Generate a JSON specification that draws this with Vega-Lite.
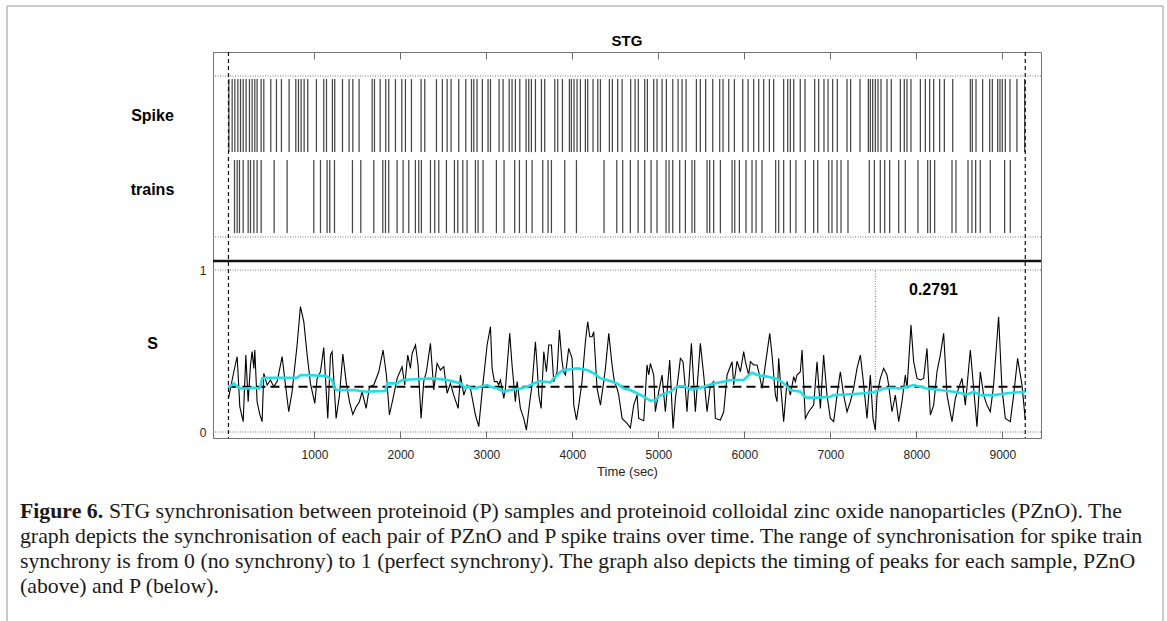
{
  "$schema": "https://vega.github.io/schema/vega-lite/v6.json",
  "autosize": {"type": "none"},
  "width": 828,
  "height": 386,
  "padding": {"left": 213, "top": 52, "right": 126, "bottom": 183},
  "background": "white",
  "config": {
    "view": {"stroke": "#737373", "strokeWidth": 1},
    "font": "Liberation Sans",
    "axis": {"grid": false, "domain": false, "labelFont": "Liberation Sans", "titleFont": "Liberation Sans"}
  },
  "datasets": {
    "spikes": [
      {"train": "PZnO", "t": 5}, {"train": "PZnO", "t": 43}, {"train": "PZnO", "t": 74}, {"train": "PZnO", "t": 109}, {"train": "PZnO", "t": 140}, {"train": "PZnO", "t": 171}, {"train": "PZnO", "t": 205}, {"train": "PZnO", "t": 244}, {"train": "PZnO", "t": 275}, {"train": "PZnO", "t": 306}, {"train": "PZnO", "t": 333}, {"train": "PZnO", "t": 380}, {"train": "PZnO", "t": 411}, {"train": "PZnO", "t": 492}, {"train": "PZnO", "t": 558}, {"train": "PZnO", "t": 616}, {"train": "PZnO", "t": 705}, {"train": "PZnO", "t": 783}, {"train": "PZnO", "t": 814}, {"train": "PZnO", "t": 845}, {"train": "PZnO", "t": 880}, {"train": "PZnO", "t": 922}, {"train": "PZnO", "t": 1023}, {"train": "PZnO", "t": 1108}, {"train": "PZnO", "t": 1140}, {"train": "PZnO", "t": 1209}, {"train": "PZnO", "t": 1236}, {"train": "PZnO", "t": 1326}, {"train": "PZnO", "t": 1403}, {"train": "PZnO", "t": 1446}, {"train": "PZnO", "t": 1519}, {"train": "PZnO", "t": 1671}, {"train": "PZnO", "t": 1698}, {"train": "PZnO", "t": 1764}, {"train": "PZnO", "t": 1829}, {"train": "PZnO", "t": 1864}, {"train": "PZnO", "t": 1942}, {"train": "PZnO", "t": 2016}, {"train": "PZnO", "t": 2058}, {"train": "PZnO", "t": 2128}, {"train": "PZnO", "t": 2240}, {"train": "PZnO", "t": 2283}, {"train": "PZnO", "t": 2419}, {"train": "PZnO", "t": 2488}, {"train": "PZnO", "t": 2543}, {"train": "PZnO", "t": 2589}, {"train": "PZnO", "t": 2678}, {"train": "PZnO", "t": 2760}, {"train": "PZnO", "t": 2826}, {"train": "PZnO", "t": 2853}, {"train": "PZnO", "t": 2891}, {"train": "PZnO", "t": 2953}, {"train": "PZnO", "t": 3019}, {"train": "PZnO", "t": 3047}, {"train": "PZnO", "t": 3147}, {"train": "PZnO", "t": 3194}, {"train": "PZnO", "t": 3265}, {"train": "PZnO", "t": 3298}, {"train": "PZnO", "t": 3337}, {"train": "PZnO", "t": 3388}, {"train": "PZnO", "t": 3461}, {"train": "PZnO", "t": 3492}, {"train": "PZnO", "t": 3523}, {"train": "PZnO", "t": 3570}, {"train": "PZnO", "t": 3640}, {"train": "PZnO", "t": 3678}, {"train": "PZnO", "t": 3795}, {"train": "PZnO", "t": 3829}, {"train": "PZnO", "t": 3884}, {"train": "PZnO", "t": 3965}, {"train": "PZnO", "t": 3988}, {"train": "PZnO", "t": 4019}, {"train": "PZnO", "t": 4054}, {"train": "PZnO", "t": 4093}, {"train": "PZnO", "t": 4151}, {"train": "PZnO", "t": 4178}, {"train": "PZnO", "t": 4240}, {"train": "PZnO", "t": 4295}, {"train": "PZnO", "t": 4326}, {"train": "PZnO", "t": 4430}, {"train": "PZnO", "t": 4465}, {"train": "PZnO", "t": 4527}, {"train": "PZnO", "t": 4578}, {"train": "PZnO", "t": 4678}, {"train": "PZnO", "t": 4729}, {"train": "PZnO", "t": 4767}, {"train": "PZnO", "t": 4841}, {"train": "PZnO", "t": 4872}, {"train": "PZnO", "t": 4946}, {"train": "PZnO", "t": 4984}, {"train": "PZnO", "t": 5043}, {"train": "PZnO", "t": 5093}, {"train": "PZnO", "t": 5167}, {"train": "PZnO", "t": 5229}, {"train": "PZnO", "t": 5275}, {"train": "PZnO", "t": 5322}, {"train": "PZnO", "t": 5442}, {"train": "PZnO", "t": 5488}, {"train": "PZnO", "t": 5550}, {"train": "PZnO", "t": 5632}, {"train": "PZnO", "t": 5713}, {"train": "PZnO", "t": 5752}, {"train": "PZnO", "t": 5818}, {"train": "PZnO", "t": 5884}, {"train": "PZnO", "t": 5981}, {"train": "PZnO", "t": 6043}, {"train": "PZnO", "t": 6108}, {"train": "PZnO", "t": 6167}, {"train": "PZnO", "t": 6225}, {"train": "PZnO", "t": 6291}, {"train": "PZnO", "t": 6341}, {"train": "PZnO", "t": 6457}, {"train": "PZnO", "t": 6504}, {"train": "PZnO", "t": 6535}, {"train": "PZnO", "t": 6574}, {"train": "PZnO", "t": 6650}, {"train": "PZnO", "t": 6705}, {"train": "PZnO", "t": 6818}, {"train": "PZnO", "t": 6864}, {"train": "PZnO", "t": 6926}, {"train": "PZnO", "t": 6973}, {"train": "PZnO", "t": 7027}, {"train": "PZnO", "t": 7081}, {"train": "PZnO", "t": 7194}, {"train": "PZnO", "t": 7236}, {"train": "PZnO", "t": 7345}, {"train": "PZnO", "t": 7442}, {"train": "PZnO", "t": 7465}, {"train": "PZnO", "t": 7492}, {"train": "PZnO", "t": 7523}, {"train": "PZnO", "t": 7554}, {"train": "PZnO", "t": 7589}, {"train": "PZnO", "t": 7659}, {"train": "PZnO", "t": 7709}, {"train": "PZnO", "t": 7814}, {"train": "PZnO", "t": 7860}, {"train": "PZnO", "t": 7891}, {"train": "PZnO", "t": 7938}, {"train": "PZnO", "t": 8047}, {"train": "PZnO", "t": 8105}, {"train": "PZnO", "t": 8155}, {"train": "PZnO", "t": 8202}, {"train": "PZnO", "t": 8271}, {"train": "PZnO", "t": 8326}, {"train": "PZnO", "t": 8423}, {"train": "PZnO", "t": 8628}, {"train": "PZnO", "t": 8651}, {"train": "PZnO", "t": 8694}, {"train": "PZnO", "t": 8771}, {"train": "PZnO", "t": 8853}, {"train": "PZnO", "t": 8884}, {"train": "PZnO", "t": 8946}, {"train": "PZnO", "t": 8973}, {"train": "PZnO", "t": 9000}, {"train": "PZnO", "t": 9035}, {"train": "PZnO", "t": 9089}, {"train": "PZnO", "t": 9170}, {"train": "PZnO", "t": 9260},
      {"train": "P", "t": 70}, {"train": "P", "t": 101}, {"train": "P", "t": 128}, {"train": "P", "t": 171}, {"train": "P", "t": 229}, {"train": "P", "t": 256}, {"train": "P", "t": 295}, {"train": "P", "t": 333}, {"train": "P", "t": 380}, {"train": "P", "t": 531}, {"train": "P", "t": 682}, {"train": "P", "t": 992}, {"train": "P", "t": 1070}, {"train": "P", "t": 1147}, {"train": "P", "t": 1178}, {"train": "P", "t": 1233}, {"train": "P", "t": 1442}, {"train": "P", "t": 1539}, {"train": "P", "t": 1690}, {"train": "P", "t": 1795}, {"train": "P", "t": 1826}, {"train": "P", "t": 1864}, {"train": "P", "t": 1961}, {"train": "P", "t": 2031}, {"train": "P", "t": 2097}, {"train": "P", "t": 2174}, {"train": "P", "t": 2213}, {"train": "P", "t": 2244}, {"train": "P", "t": 2349}, {"train": "P", "t": 2399}, {"train": "P", "t": 2446}, {"train": "P", "t": 2535}, {"train": "P", "t": 2628}, {"train": "P", "t": 2667}, {"train": "P", "t": 2725}, {"train": "P", "t": 2775}, {"train": "P", "t": 2872}, {"train": "P", "t": 2903}, {"train": "P", "t": 2961}, {"train": "P", "t": 3116}, {"train": "P", "t": 3205}, {"train": "P", "t": 3329}, {"train": "P", "t": 3384}, {"train": "P", "t": 3465}, {"train": "P", "t": 3531}, {"train": "P", "t": 3655}, {"train": "P", "t": 3717}, {"train": "P", "t": 3756}, {"train": "P", "t": 3911}, {"train": "P", "t": 4047}, {"train": "P", "t": 4368}, {"train": "P", "t": 4516}, {"train": "P", "t": 4585}, {"train": "P", "t": 4674}, {"train": "P", "t": 4764}, {"train": "P", "t": 4841}, {"train": "P", "t": 4915}, {"train": "P", "t": 4984}, {"train": "P", "t": 5089}, {"train": "P", "t": 5124}, {"train": "P", "t": 5167}, {"train": "P", "t": 5248}, {"train": "P", "t": 5314}, {"train": "P", "t": 5391}, {"train": "P", "t": 5422}, {"train": "P", "t": 5566}, {"train": "P", "t": 5597}, {"train": "P", "t": 5643}, {"train": "P", "t": 5721}, {"train": "P", "t": 5857}, {"train": "P", "t": 5888}, {"train": "P", "t": 5942}, {"train": "P", "t": 6019}, {"train": "P", "t": 6089}, {"train": "P", "t": 6136}, {"train": "P", "t": 6205}, {"train": "P", "t": 6364}, {"train": "P", "t": 6399}, {"train": "P", "t": 6457}, {"train": "P", "t": 6535}, {"train": "P", "t": 6600}, {"train": "P", "t": 6709}, {"train": "P", "t": 6806}, {"train": "P", "t": 6853}, {"train": "P", "t": 6981}, {"train": "P", "t": 7019}, {"train": "P", "t": 7078}, {"train": "P", "t": 7124}, {"train": "P", "t": 7205}, {"train": "P", "t": 7453}, {"train": "P", "t": 7512}, {"train": "P", "t": 7581}, {"train": "P", "t": 7632}, {"train": "P", "t": 7690}, {"train": "P", "t": 7795}, {"train": "P", "t": 7872}, {"train": "P", "t": 8019}, {"train": "P", "t": 8132}, {"train": "P", "t": 8163}, {"train": "P", "t": 8213}, {"train": "P", "t": 8415}, {"train": "P", "t": 8461}, {"train": "P", "t": 8601}, {"train": "P", "t": 8647}, {"train": "P", "t": 8690}, {"train": "P", "t": 8744}, {"train": "P", "t": 8860}, {"train": "P", "t": 9027}, {"train": "P", "t": 9093}
    ],
    "sync": [
      {"t": 0, "s": 0.208}, {"t": 62, "s": 0.372}, {"t": 101, "s": 0.465}, {"t": 132, "s": 0.156}, {"t": 171, "s": 0.064}, {"t": 202, "s": 0.475}, {"t": 229, "s": 0.187}, {"t": 256, "s": 0.414}, {"t": 275, "s": 0.496}, {"t": 295, "s": 0.393}, {"t": 306, "s": 0.506}, {"t": 333, "s": 0.187}, {"t": 364, "s": 0.109}, {"t": 391, "s": 0.064}, {"t": 411, "s": 0.362}, {"t": 450, "s": 0.29}, {"t": 488, "s": 0.321}, {"t": 527, "s": 0.28}, {"t": 566, "s": 0.311}, {"t": 624, "s": 0.465}, {"t": 663, "s": 0.29}, {"t": 701, "s": 0.125}, {"t": 740, "s": 0.249}, {"t": 798, "s": 0.537}, {"t": 837, "s": 0.774}, {"t": 876, "s": 0.681}, {"t": 915, "s": 0.475}, {"t": 953, "s": 0.3}, {"t": 1004, "s": 0.177}, {"t": 1031, "s": 0.331}, {"t": 1070, "s": 0.372}, {"t": 1108, "s": 0.521}, {"t": 1155, "s": 0.084}, {"t": 1186, "s": 0.475}, {"t": 1205, "s": 0.496}, {"t": 1252, "s": 0.084}, {"t": 1291, "s": 0.228}, {"t": 1330, "s": 0.481}, {"t": 1368, "s": 0.311}, {"t": 1407, "s": 0.187}, {"t": 1446, "s": 0.109}, {"t": 1485, "s": 0.156}, {"t": 1523, "s": 0.187}, {"t": 1554, "s": 0.249}, {"t": 1601, "s": 0.146}, {"t": 1640, "s": 0.28}, {"t": 1690, "s": 0.29}, {"t": 1748, "s": 0.372}, {"t": 1798, "s": 0.506}, {"t": 1837, "s": 0.352}, {"t": 1872, "s": 0.105}, {"t": 1922, "s": 0.228}, {"t": 1961, "s": 0.331}, {"t": 2019, "s": 0.403}, {"t": 2050, "s": 0.29}, {"t": 2085, "s": 0.475}, {"t": 2116, "s": 0.393}, {"t": 2136, "s": 0.485}, {"t": 2175, "s": 0.537}, {"t": 2205, "s": 0.414}, {"t": 2240, "s": 0.084}, {"t": 2271, "s": 0.311}, {"t": 2302, "s": 0.372}, {"t": 2349, "s": 0.547}, {"t": 2388, "s": 0.259}, {"t": 2426, "s": 0.424}, {"t": 2465, "s": 0.383}, {"t": 2504, "s": 0.403}, {"t": 2543, "s": 0.239}, {"t": 2581, "s": 0.3}, {"t": 2620, "s": 0.228}, {"t": 2671, "s": 0.146}, {"t": 2698, "s": 0.352}, {"t": 2737, "s": 0.228}, {"t": 2775, "s": 0.29}, {"t": 2814, "s": 0.269}, {"t": 2872, "s": 0.105}, {"t": 2911, "s": 0.033}, {"t": 2950, "s": 0.249}, {"t": 3008, "s": 0.537}, {"t": 3047, "s": 0.65},
      {"t": 3066, "s": 0.393}, {"t": 3093, "s": 0.311}, {"t": 3124, "s": 0.311}, {"t": 3143, "s": 0.29}, {"t": 3163, "s": 0.321}, {"t": 3182, "s": 0.269}, {"t": 3202, "s": 0.208}, {"t": 3221, "s": 0.269}, {"t": 3271, "s": 0.609}, {"t": 3298, "s": 0.414}, {"t": 3337, "s": 0.187}, {"t": 3357, "s": 0.311}, {"t": 3395, "s": 0.146}, {"t": 3434, "s": 0.084}, {"t": 3465, "s": 0.012}, {"t": 3504, "s": 0.187}, {"t": 3531, "s": 0.29}, {"t": 3570, "s": 0.557}, {"t": 3589, "s": 0.414}, {"t": 3609, "s": 0.228}, {"t": 3636, "s": 0.146}, {"t": 3667, "s": 0.496}, {"t": 3698, "s": 0.372}, {"t": 3725, "s": 0.537}, {"t": 3756, "s": 0.537}, {"t": 3783, "s": 0.311}, {"t": 3822, "s": 0.372}, {"t": 3849, "s": 0.63}, {"t": 3880, "s": 0.434}, {"t": 3899, "s": 0.372}, {"t": 3919, "s": 0.352}, {"t": 3957, "s": 0.516}, {"t": 3996, "s": 0.455}, {"t": 4016, "s": 0.166}, {"t": 4047, "s": 0.074}, {"t": 4074, "s": 0.166}, {"t": 4112, "s": 0.311}, {"t": 4151, "s": 0.557}, {"t": 4178, "s": 0.681}, {"t": 4202, "s": 0.588}, {"t": 4229, "s": 0.588}, {"t": 4248, "s": 0.619}, {"t": 4287, "s": 0.269}, {"t": 4326, "s": 0.166}, {"t": 4364, "s": 0.311}, {"t": 4384, "s": 0.393}, {"t": 4423, "s": 0.609}, {"t": 4461, "s": 0.414}, {"t": 4488, "s": 0.311}, {"t": 4519, "s": 0.269}, {"t": 4539, "s": 0.228}, {"t": 4578, "s": 0.084}, {"t": 4636, "s": 0.053}, {"t": 4674, "s": 0.026}, {"t": 4713, "s": 0.166}, {"t": 4752, "s": 0.228}, {"t": 4771, "s": 0.084}, {"t": 4830, "s": 0.07}, {"t": 4868, "s": 0.414}, {"t": 4888, "s": 0.352}, {"t": 4907, "s": 0.424}, {"t": 4946, "s": 0.352}, {"t": 4965, "s": 0.125}, {"t": 5004, "s": 0.249}, {"t": 5043, "s": 0.352}, {"t": 5081, "s": 0.125}, {"t": 5132, "s": 0.444}, {"t": 5171, "s": 0.022}, {"t": 5198, "s": 0.208}, {"t": 5236, "s": 0.362}, {"t": 5256, "s": 0.455}, {"t": 5287, "s": 0.434}, {"t": 5314, "s": 0.269}, {"t": 5333, "s": 0.125}, {"t": 5384, "s": 0.547}, {"t": 5430, "s": 0.125}, {"t": 5488, "s": 0.547}, {"t": 5527, "s": 0.352}, {"t": 5566, "s": 0.125}, {"t": 5605, "s": 0.29}, {"t": 5643, "s": 0.311}, {"t": 5663, "s": 0.084}, {"t": 5721, "s": 0.074}, {"t": 5760, "s": 0.125}, {"t": 5799, "s": 0.352}, {"t": 5857, "s": 0.434}, {"t": 5876, "s": 0.29}, {"t": 5915, "s": 0.438}, {"t": 5954, "s": 0.372}, {"t": 5992, "s": 0.496}, {"t": 6012, "s": 0.434}, {"t": 6031, "s": 0.393}, {"t": 6050, "s": 0.352}, {"t": 6070, "s": 0.434}, {"t": 6109, "s": 0.414}, {"t": 6147, "s": 0.414}, {"t": 6167, "s": 0.372}, {"t": 6206, "s": 0.269}, {"t": 6244, "s": 0.414}, {"t": 6295, "s": 0.609}, {"t": 6322, "s": 0.475}, {"t": 6361, "s": 0.228}, {"t": 6380, "s": 0.187}, {"t": 6399, "s": 0.455},
      {"t": 6419, "s": 0.311}, {"t": 6457, "s": 0.064}, {"t": 6496, "s": 0.311}, {"t": 6535, "s": 0.228}, {"t": 6574, "s": 0.342}, {"t": 6593, "s": 0.311}, {"t": 6612, "s": 0.352}, {"t": 6651, "s": 0.372}, {"t": 6671, "s": 0.506}, {"t": 6709, "s": 0.084}, {"t": 6748, "s": 0.125}, {"t": 6806, "s": 0.166}, {"t": 6845, "s": 0.434}, {"t": 6884, "s": 0.146}, {"t": 6922, "s": 0.475}, {"t": 6961, "s": 0.228}, {"t": 7000, "s": 0.084}, {"t": 7039, "s": 0.064}, {"t": 7078, "s": 0.228}, {"t": 7116, "s": 0.372}, {"t": 7155, "s": 0.228}, {"t": 7194, "s": 0.125}, {"t": 7233, "s": 0.187}, {"t": 7271, "s": 0.269}, {"t": 7310, "s": 0.393}, {"t": 7349, "s": 0.475}, {"t": 7388, "s": 0.29}, {"t": 7426, "s": 0.084}, {"t": 7465, "s": 0.352}, {"t": 7496, "s": 0.084}, {"t": 7523, "s": 0.012}, {"t": 7543, "s": 0.228}, {"t": 7581, "s": 0.331}, {"t": 7620, "s": 0.393}, {"t": 7659, "s": 0.352}, {"t": 7678, "s": 0.29}, {"t": 7717, "s": 0.125}, {"t": 7756, "s": 0.228}, {"t": 7795, "s": 0.064}, {"t": 7833, "s": 0.187}, {"t": 7872, "s": 0.352}, {"t": 7892, "s": 0.269}, {"t": 7938, "s": 0.66}, {"t": 7969, "s": 0.434}, {"t": 8008, "s": 0.331}, {"t": 8047, "s": 0.321}, {"t": 8085, "s": 0.331}, {"t": 8124, "s": 0.516}, {"t": 8163, "s": 0.105}, {"t": 8202, "s": 0.166}, {"t": 8240, "s": 0.372}, {"t": 8279, "s": 0.475}, {"t": 8318, "s": 0.609}, {"t": 8357, "s": 0.228}, {"t": 8415, "s": 0.064}, {"t": 8454, "s": 0.208}, {"t": 8492, "s": 0.269}, {"t": 8531, "s": 0.331}, {"t": 8570, "s": 0.166}, {"t": 8628, "s": 0.506}, {"t": 8667, "s": 0.269}, {"t": 8705, "s": 0.033}, {"t": 8744, "s": 0.372}, {"t": 8783, "s": 0.228}, {"t": 8822, "s": 0.166}, {"t": 8860, "s": 0.125}, {"t": 8899, "s": 0.29}, {"t": 8957, "s": 0.712}, {"t": 8996, "s": 0.269}, {"t": 9035, "s": 0.084}, {"t": 9093, "s": 0.064}, {"t": 9132, "s": 0.228}, {"t": 9178, "s": 0.455}, {"t": 9229, "s": 0.29}, {"t": 9267, "s": 0.074}
    ],
    "avg": [
      {"t": 0, "s": 0.274}, {"t": 62, "s": 0.3}, {"t": 101, "s": 0.28}, {"t": 140, "s": 0.269}, {"t": 217, "s": 0.269}, {"t": 295, "s": 0.274}, {"t": 353, "s": 0.269}, {"t": 372, "s": 0.28}, {"t": 391, "s": 0.331}, {"t": 430, "s": 0.335}, {"t": 798, "s": 0.335}, {"t": 837, "s": 0.352}, {"t": 1070, "s": 0.348}, {"t": 1147, "s": 0.342}, {"t": 1205, "s": 0.321}, {"t": 1225, "s": 0.28}, {"t": 1252, "s": 0.259}, {"t": 1458, "s": 0.259}, {"t": 1535, "s": 0.253}, {"t": 1612, "s": 0.249}, {"t": 1826, "s": 0.253}, {"t": 1845, "s": 0.3}, {"t": 1961, "s": 0.3}, {"t": 2019, "s": 0.321}, {"t": 2233, "s": 0.327}, {"t": 2388, "s": 0.331}, {"t": 2543, "s": 0.321}, {"t": 2620, "s": 0.311}, {"t": 2698, "s": 0.3}, {"t": 2756, "s": 0.269}, {"t": 2775, "s": 0.28}, {"t": 2853, "s": 0.269}, {"t": 2930, "s": 0.28}, {"t": 3008, "s": 0.29}, {"t": 3047, "s": 0.28}, {"t": 3124, "s": 0.269}, {"t": 3202, "s": 0.249}, {"t": 3279, "s": 0.259}, {"t": 3395, "s": 0.269}, {"t": 3473, "s": 0.28}, {"t": 3550, "s": 0.3}, {"t": 3628, "s": 0.315}, {"t": 3744, "s": 0.306}, {"t": 3783, "s": 0.331}, {"t": 3860, "s": 0.372}, {"t": 3899, "s": 0.383}, {"t": 3977, "s": 0.387}, {"t": 4054, "s": 0.393}, {"t": 4171, "s": 0.383}, {"t": 4248, "s": 0.362}, {"t": 4326, "s": 0.331}, {"t": 4403, "s": 0.321}, {"t": 4519, "s": 0.3}, {"t": 4597, "s": 0.269}, {"t": 4674, "s": 0.259}, {"t": 4752, "s": 0.239}, {"t": 4830, "s": 0.218}, {"t": 4907, "s": 0.193}, {"t": 4965, "s": 0.197}, {"t": 5023, "s": 0.228}, {"t": 5140, "s": 0.249}, {"t": 5217, "s": 0.28}, {"t": 5295, "s": 0.284}, {"t": 5372, "s": 0.263}, {"t": 5449, "s": 0.269}, {"t": 5527, "s": 0.28}, {"t": 5643, "s": 0.3}, {"t": 5760, "s": 0.311}, {"t": 5837, "s": 0.321}, {"t": 5992, "s": 0.321}, {"t": 6050, "s": 0.352}, {"t": 6089, "s": 0.366}, {"t": 6147, "s": 0.352}, {"t": 6264, "s": 0.342}, {"t": 6380, "s": 0.327}, {"t": 6458, "s": 0.3}, {"t": 6535, "s": 0.259}, {"t": 6651, "s": 0.249}, {"t": 6690, "s": 0.224}, {"t": 6729, "s": 0.212}, {"t": 6845, "s": 0.212}, {"t": 7000, "s": 0.218}, {"t": 7039, "s": 0.228}, {"t": 7194, "s": 0.232}, {"t": 7388, "s": 0.239}, {"t": 7504, "s": 0.245}, {"t": 7581, "s": 0.259}, {"t": 7620, "s": 0.269}, {"t": 7698, "s": 0.273}, {"t": 7814, "s": 0.269}, {"t": 7969, "s": 0.29}, {"t": 8047, "s": 0.28}, {"t": 8124, "s": 0.269}, {"t": 8279, "s": 0.259}, {"t": 8434, "s": 0.249}, {"t": 8589, "s": 0.232}, {"t": 8667, "s": 0.249}, {"t": 8744, "s": 0.228}, {"t": 8899, "s": 0.228}, {"t": 9054, "s": 0.239}, {"t": 9267, "s": 0.249}
    ]
  },
  "layer": [
    {
      "data": {"values": [{}]},
      "mark": {"type": "rule", "stroke": "#b8b8b8", "strokeWidth": 1.5},
      "encoding": {
        "x": {"datum": -2576, "axis": null},
        "x2": {"datum": 10869},
        "y": {"datum": 2.63, "axis": null}
      }
    },
    {
      "data": {"values": [{}]},
      "mark": {"type": "rule", "stroke": "#b8b8b8", "strokeWidth": 1.5},
      "encoding": {
        "x": {"datum": -2576, "axis": null},
        "y": {"datum": 2.63, "axis": null},
        "y2": {"datum": -1.2}
      }
    },
    {
      "data": {"values": [{}]},
      "mark": {"type": "rule", "stroke": "#b8b8b8", "strokeWidth": 1.5},
      "encoding": {
        "x": {"datum": 10869, "axis": null},
        "y": {"datum": 2.63, "axis": null},
        "y2": {"datum": -1.2}
      }
    },
    {
      "data": {"values": [{"level": 2.198}, {"level": 1.204}, {"level": 1}, {"level": 0}]},
      "mark": {"type": "rule", "stroke": "#7a7a7a", "strokeWidth": 1, "strokeDash": [1, 1.5]},
      "encoding": {"y": {"field": "level", "type": "quantitative", "axis": null}}
    },
    {
      "data": {"values": [{}]},
      "mark": {"type": "rule", "stroke": "#111111", "strokeWidth": 2.4},
      "encoding": {"y": {"datum": 1.056, "axis": null}}
    },
    {
      "data": {"name": "spikes"},
      "transform": [{"filter": "datum.train === 'PZnO'"}],
      "mark": {"type": "rule", "stroke": "#474747", "strokeWidth": 1.25},
      "encoding": {
        "x": {"field": "t", "type": "quantitative", "axis": null},
        "y": {"datum": 1.728, "axis": null},
        "y2": {"datum": 2.179}
      }
    },
    {
      "data": {"name": "spikes"},
      "transform": [{"filter": "datum.train === 'P'"}],
      "mark": {"type": "rule", "stroke": "#474747", "strokeWidth": 1.25},
      "encoding": {
        "x": {"field": "t", "type": "quantitative", "axis": null},
        "y": {"datum": 1.228, "axis": null},
        "y2": {"datum": 1.679}
      }
    },
    {
      "data": {"values": [{"edge": 0}, {"edge": 9267}]},
      "mark": {"type": "rule", "stroke": "#111111", "strokeWidth": 1.2, "strokeDash": [4, 3]},
      "encoding": {"x": {"field": "edge", "type": "quantitative", "axis": null}}
    },
    {
      "data": {"values": [{}]},
      "mark": {"type": "rule", "stroke": "#7a7a7a", "strokeWidth": 1, "strokeDash": [1, 1.5]},
      "encoding": {
        "x": {"datum": 7523, "axis": null},
        "y": {"datum": 0, "axis": null},
        "y2": {"datum": 1}
      }
    },
    {
      "data": {"name": "sync"},
      "mark": {"type": "line", "stroke": "#000000", "strokeWidth": 1.1},
      "encoding": {
        "x": {
          "field": "t", "type": "quantitative",
          "scale": {"domain": [-180, 9450], "nice": false, "zero": false},
          "axis": {
            "orient": "bottom", "values": [1000, 2000, 3000, 4000, 5000, 6000, 7000, 8000, 9000],
            "format": "d", "tickSize": -7, "tickColor": "#6e6e6e", "labelFontSize": 12, "labelColor": "#262626",
            "labelPadding": 18, "title": "Time (sec)", "titleFontSize": 13, "titleFontWeight": "normal",
            "titleColor": "#262626", "titlePadding": 5
          }
        },
        "y": {
          "field": "s", "type": "quantitative",
          "scale": {"domain": [-0.037, 2.346], "nice": false, "zero": false},
          "axis": {
            "orient": "left", "values": [0, 1], "ticks": false, "labelFontSize": 12,
            "labelColor": "#262626", "labelPadding": 7, "title": null
          }
        }
      }
    },
    {
      "data": {"values": [{}]},
      "mark": {"type": "rule", "stroke": "#000000", "strokeWidth": 2, "strokeDash": [9, 5]},
      "encoding": {
        "x": {"datum": 0, "axis": null},
        "x2": {"datum": 9267},
        "y": {"datum": 0.2791, "axis": null}
      }
    },
    {
      "data": {"name": "avg"},
      "mark": {"type": "line", "stroke": "#1fe0e6", "strokeWidth": 2.6},
      "encoding": {
        "x": {
          "field": "t", "type": "quantitative",
          "axis": {
            "orient": "top", "values": [1000, 2000, 3000, 4000, 5000, 6000, 7000, 8000, 9000],
            "labels": false, "tickSize": -7, "tickColor": "#6e6e6e", "title": null
          }
        },
        "y": {
          "field": "s", "type": "quantitative",
          "axis": {
            "orient": "left", "values": [0.549, 1.5, 1.951], "ticks": false,
            "labelExpr": "datum.value > 1.8 ? 'Spike' : datum.value > 1.2 ? 'trains' : 'S'",
            "labelFontSize": 16, "labelFontWeight": "bold", "labelColor": "#000000",
            "labelAlign": "center", "labelBaseline": "middle", "labelPadding": 61, "title": null
          }
        }
      }
    },
    {
      "data": {"values": [{}]},
      "mark": {"type": "text", "text": "STG", "font": "Liberation Sans", "fontSize": 15, "fontWeight": "bold", "align": "center", "baseline": "alphabetic", "color": "#000000"},
      "encoding": {
        "x": {"datum": 4635, "axis": null},
        "y": {"datum": 2.383, "axis": null}
      }
    },
    {
      "data": {"values": [{}]},
      "mark": {"type": "text", "text": "0.2791", "font": "Liberation Sans", "fontSize": 16, "fontWeight": "bold", "align": "left", "baseline": "middle", "color": "#000000"},
      "encoding": {
        "x": {"datum": 7915, "axis": null},
        "y": {"datum": 0.877, "axis": null}
      }
    },
    {
      "data": {"values": [{}]},
      "mark": {"type": "text", "text": "Figure 6.", "font": "Liberation Serif", "fontSize": 21.8, "fontWeight": "bold", "align": "left", "baseline": "alphabetic", "color": "#1a1a1a"},
      "encoding": {
        "x": {"datum": -2425, "axis": null},
        "y": {"datum": -0.531, "axis": null}
      }
    },
    {
      "data": {"values": [{}]},
      "mark": {"type": "text", "text": "STG synchronisation between proteinoid (P) samples and proteinoid colloidal zinc oxide nanoparticles (PZnO). The", "font": "Liberation Serif", "fontSize": 21.8, "align": "left", "baseline": "alphabetic", "color": "#1a1a1a", "dx": 89},
      "encoding": {
        "x": {"datum": -2425, "axis": null},
        "y": {"datum": -0.531, "axis": null}
      }
    },
    {
      "data": {"values": [{}]},
      "mark": {
        "type": "text",
        "text": ["graph depicts the synchronisation of each pair of PZnO and P spike trains over time. The range of synchronisation for spike train", "synchrony is from 0 (no synchrony) to 1 (perfect synchrony). The graph also depicts the timing of peaks for each sample, PZnO", "(above) and P (below)."],
        "font": "Liberation Serif", "fontSize": 21.8, "lineHeight": 25, "align": "left", "baseline": "alphabetic", "color": "#1a1a1a", "dy": 25
      },
      "encoding": {
        "x": {"datum": -2425, "axis": null},
        "y": {"datum": -0.531, "axis": null}
      }
    }
  ],
  "resolve": {"axis": {"x": "independent", "y": "independent"}}
}
